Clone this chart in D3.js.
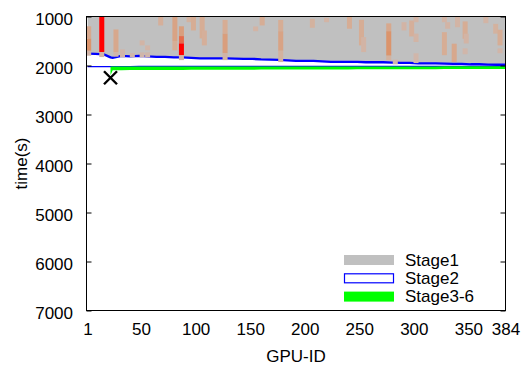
<!DOCTYPE html>
<html>
<head>
<meta charset="utf-8">
<script src="https://cdn.jsdelivr.net/npm/d3@7"></script>
<style>
  body { margin: 0; background: #fff; }
  svg { display: block; }
  text { font-family: "Liberation Sans", Arial, Helvetica, sans-serif; font-size: 17px; fill: #000; }
</style>
</head>
<body>
<svg id="chart" width="528" height="372"></svg>
<script>
// Per-GPU stage completion times (seconds), sampled along the GPU index
const gpuIds = [1, 8, 16, 20, 22, 24, 32, 40, 48, 56, 64, 72, 80, 88, 96, 104,
  120, 128, 136, 144, 152, 160, 168, 176, 184, 192, 200, 208, 216, 224, 232, 240,
  248, 256, 264, 272, 280, 288, 296, 304, 312, 320, 328, 336, 344, 352, 360, 368, 376, 384];
const stage1End = [1758, 1763, 1773, 1813, 1834, 1844, 1803, 1813, 1803, 1813, 1823, 1823, 1834, 1834, 1844, 1854,
  1854, 1854, 1860, 1864, 1864, 1875, 1880, 1885, 1895, 1905, 1905, 1905, 1915, 1925, 1925, 1925,
  1925, 1935, 1935, 1935, 1942, 1946, 1946, 1956, 1956, 1956, 1962, 1966, 1966, 1976, 1976, 1982, 1986, 1986];
const stage2End = [2023, 2023, 2023, 2022, 2022, 2022, 2022, 2022, 2021, 2021, 2021, 2021, 2021, 2021, 2020, 2020,
  2020, 2020, 2020, 2020, 2020, 2020, 2020, 2020, 2020, 2019, 2019, 2019, 2019, 2019, 2019, 2019,
  2019, 2019, 2018, 2018, 2018, 2018, 2018, 2018, 2018, 2018, 2017, 2017, 2017, 2017, 2017, 2017, 2017, 2017];
const stage36End = [null, null, null, null, 2200, 2095, 2095, 2094, 2093, 2092, 2092, 2091, 2090, 2090, 2089, 2088,
  2087, 2086, 2086, 2085, 2085, 2084, 2084, 2084, 2083, 2083, 2083, 2082, 2082, 2081, 2080, 2080,
  2079, 2078, 2078, 2077, 2076, 2076, 2075, 2075, 2074, 2074, 2073, 2073, 2073, 2072, 2072, 2072, 2072, 2072];

// Highlighted intervals inside Stage1 (GPU, start, end, intensity 0..1)
const markGpu   = [2, 2, 2, 14, 14, 27, 27, 33, 42, 51, 51, 56, 56, 68, 81, 81,
  87, 87, 87, 87, 94, 98, 106, 108, 127, 127, 127, 155, 161, 178, 178, 178,
  207, 220, 241, 252, 254, 277, 277, 277, 283, 291, 298, 302, 302, 302,
  328, 328, 331, 337, 340, 347, 347, 348, 366, 375, 379, 379];
const markStart = [1200, 1450, 1700, 1000, 1726, 1264, 1726, 1671, 1745, 1488, 1732, 1590, 1732, 1000, 1000, 1500,
  1200, 1400, 1550, 1790, 1000, 1000, 1000, 1285, 1070, 1350, 1750, 1203, 1000, 1070, 1300, 1700,
  1047, 1027, 1000, 1067, 1420, 1140, 1300, 1800, 1880, 1116, 1081, 1000, 1350, 1750,
  1000, 1320, 1116, 1555, 1000, 1100, 1650, 1350, 1000, 1150, 1270, 1650];
const markEnd   = [1450, 1700, 1800, 1726, 1828, 1726, 1820, 1834, 1834, 1590, 1834, 1691, 1834, 1183, 1500, 1690,
  1400, 1550, 1790, 1890, 1116, 1285, 1447, 1590, 1350, 1750, 1890, 1300, 1183, 1300, 1700, 1930,
  1230, 1116, 1250, 1590, 1726, 1300, 1800, 1895, 1976, 1285, 1407, 1116, 1520, 1950,
  1116, 1790, 1250, 1930, 1220, 1455, 1770, 1550, 1136, 1350, 1590, 1750];
const markLevel = [0.35, 0.55, 0.12, 1.0, 0.12, 0.35, 0.12, 0.12, 0.1, 0.15, 0.1, 0.12, 0.1, 0.25, 0.4, 0.3,
  0.45, 0.7, 1.0, 0.12, 0.2, 0.3, 0.3, 0.25, 0.3, 0.45, 0.15, 0.15, 0.3, 0.3, 0.4, 0.2,
  0.2, 0.15, 0.3, 0.3, 0.15, 0.35, 0.55, 0.2, 0.1, 0.15, 0.25, 0.15, 0.15, 0.1,
  0.15, 0.3, 0.15, 0.35, 0.15, 0.3, 0.1, 0.15, 0.15, 0.2, 0.3, 0.12];

// Stragglers flagged with a cross
const crossGpu = [22];
const crossTime = [2250];

const xTicks = [1, 50, 100, 150, 200, 250, 300, 350, 384];
const yTicks = [1000, 2000, 3000, 4000, 5000, 6000, 7000];
const legendLabels = ["Stage1", "Stage2", "Stage3-6"];

const svg = d3.select("#chart");
const L = 86.5, R = 505.5, T = 16.5, B = 310.5;

const x = d3.scaleLinear().domain([0, 384]).range([L, R]);
const y = d3.scaleLinear().domain([1000, 7000]).range([T, B]);
const heat = d3.scaleLinear()
  .domain([0, 0.3, 0.6, 1])
  .range(["#cdbbb4", "#d6ad95", "#dc8f64", "#ff0000"]);

svg.append("clipPath").attr("id", "plot-clip")
  .append("rect").attr("x", L).attr("y", T).attr("width", R - L).attr("height", B - T);

const plot = svg.append("g").attr("clip-path", "url(#plot-clip)");

const rows = gpuIds.map((g, i) => ({ g, s1: stage1End[i], s2: stage2End[i], s3: stage36End[i] }));

// Stage1: from the top of the visible range down to the end of stage 1
plot.append("path")
  .datum(rows)
  .attr("fill", "#c0c0c0")
  .attr("d", d3.area().x(d => x(d.g)).y0(y(1000)).y1(d => y(d.s1)));

// Stage2: hollow band with blue border
plot.append("path")
  .datum(rows)
  .attr("fill", "#fff")
  .attr("d", d3.area().x(d => x(d.g)).y0(d => y(d.s1)).y1(d => y(d.s2)));
plot.append("path")
  .datum(rows)
  .attr("fill", "none").attr("stroke", "#0000ff").attr("stroke-width", 2.4)
  .attr("d", d3.line().x(d => x(d.g)).y(d => y(d.s1)));
plot.append("path")
  .datum(rows)
  .attr("fill", "none").attr("stroke", "#0000ff").attr("stroke-width", 1.4)
  .attr("d", d3.line().x(d => x(d.g)).y(d => y(d.s2)));

// Stage3-6
plot.append("path")
  .datum(rows)
  .attr("fill", "#00ff00")
  .attr("d", d3.area().defined(d => d.s3 != null)
    .x(d => x(d.g)).y0(d => y(d.s2)).y1(d => y(d.s3)));

// Highlighted intervals
const marks = markGpu.map((g, i) => ({ g, a: markStart[i], b: markEnd[i], v: markLevel[i] }));
plot.selectAll("rect.mark")
  .data(marks)
  .join("rect")
  .attr("class", "mark")
  .attr("x", d => x(d.g - 2.3))
  .attr("width", d => x(d.g + 2.3) - x(d.g - 2.3))
  .attr("y", d => y(d.a))
  .attr("height", d => y(d.b) - y(d.a))
  .attr("fill", d => heat(d.v));

// Crosses
const cs = 6.5;
crossGpu.forEach((g, i) => {
  const cx = x(g), cy = y(crossTime[i]);
  svg.append("path")
    .attr("d", `M${cx - cs},${cy - cs}L${cx + cs},${cy + cs}M${cx - cs},${cy + cs}L${cx + cs},${cy - cs}`)
    .attr("stroke", "#000").attr("stroke-width", 2.4).attr("fill", "none");
});

// Axes
const yAxis = svg.append("g").attr("transform", `translate(${L},0)`)
  .call(d3.axisLeft(y).tickValues(yTicks).tickSize(-5).tickPadding(13.5).tickFormat(d3.format("d")));
yAxis.select(".domain").remove();
yAxis.selectAll("line").attr("stroke", "#000");
yAxis.selectAll("text").attr("dy", "0.45em").attr("font-size", 17).attr("font-family", null);

const yAxisR = svg.append("g").attr("transform", `translate(${R},0)`)
  .call(d3.axisRight(y).tickValues(yTicks).tickSize(-5).tickFormat(""));
yAxisR.select(".domain").remove();
yAxisR.selectAll("line").attr("stroke", "#000");

const xAxis = svg.append("g").attr("transform", `translate(0,${B})`)
  .call(d3.axisBottom(x).tickValues(xTicks).tickSize(0).tickPadding(12.5).tickFormat(d3.format("d")));
xAxis.select(".domain").remove();
xAxis.selectAll("text").attr("font-size", 17).attr("font-family", null);

// Frame
svg.append("rect")
  .attr("x", L).attr("y", T).attr("width", R - L).attr("height", B - T)
  .attr("fill", "none").attr("stroke", "#000").attr("stroke-width", 1);

// Axis titles
svg.append("text")
  .attr("x", (L + R) / 2).attr("y", 362)
  .attr("text-anchor", "middle").text("GPU-ID");
svg.append("text")
  .attr("transform", `translate(27,${(T + B) / 2}) rotate(-90)`)
  .attr("text-anchor", "middle").text("time(s)");

// Legend
const legend = svg.append("g").attr("transform", "translate(344,255)");
const swatches = [
  { fill: "#c0c0c0", stroke: "none" },
  { fill: "#fff", stroke: "#0000ff" },
  { fill: "#00ff00", stroke: "none" }
];
legendLabels.forEach((lab, i) => {
  const row = legend.append("g").attr("transform", `translate(0,${i * 18.3})`);
  row.append("rect")
    .attr("x", swatches[i].stroke === "none" ? 0 : 0.5)
    .attr("y", swatches[i].stroke === "none" ? 0 : 0.5)
    .attr("width", swatches[i].stroke === "none" ? 50 : 49)
    .attr("height", swatches[i].stroke === "none" ? 10 : 9)
    .attr("fill", swatches[i].fill)
    .attr("stroke", swatches[i].stroke)
    .attr("stroke-width", 1.2);
  row.append("text").attr("x", 61).attr("y", 10.7).text(lab);
});
</script>
</body>
</html>
